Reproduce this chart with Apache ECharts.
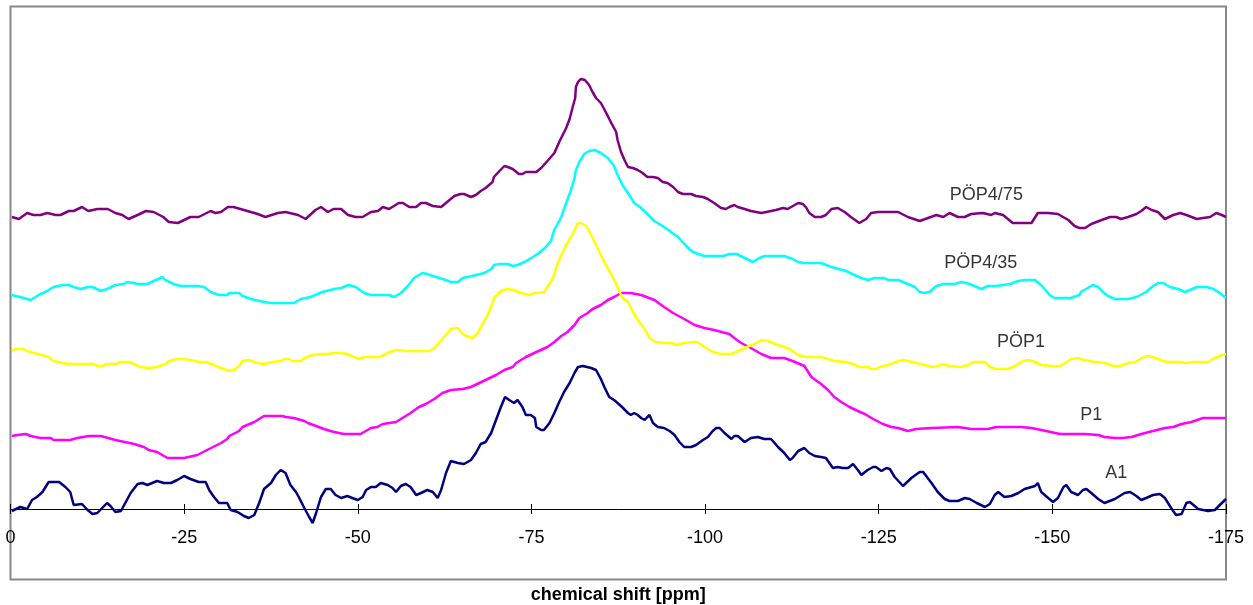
<!DOCTYPE html>
<html>
<head>
<meta charset="utf-8">
<title>chemical shift</title>
<script src="https://cdn.jsdelivr.net/npm/echarts@6/dist/echarts.min.js"></script>
<style>
  html, body { margin: 0; padding: 0; background: #fff; }
  #chart { width: 1253px; height: 605px; }
</style>
</head>
<body>
<div id="chart"></div>
<script>
// spectra: [chemical shift (ppm), intensity (offset per trace)]
const pop475 = [[-0.2,292],[-1.2,290],[-2.4,296],[-3.3,294],[-4.3,294],[-5.3,296],[-6.5,294],[-7.2,294],[-8.4,298],[-9.1,298],[-10.3,302],[-11.2,298],[-12.5,300],[-14.0,300],[-15.1,296],[-16.1,294],[-17.0,290],[-18.3,294],[-19.5,298],[-20.6,297],[-22.0,292],[-22.8,287],[-24.1,286],[-25.9,292],[-27.1,292],[-28.8,298],[-29.5,296],[-30.3,297],[-31.3,302],[-32.1,302],[-33.1,300],[-35.6,295],[-36.7,292],[-38.5,296],[-39.6,297],[-41.4,294],[-42.5,290],[-43.9,299],[-44.7,302],[-45.7,297],[-46.5,300],[-47.6,300],[-48.6,294],[-49.7,292],[-50.7,292],[-51.9,297],[-52.9,298],[-53.6,302],[-54.5,300],[-55.9,306],[-56.5,306],[-57.4,302],[-58.4,302],[-59.1,306],[-59.8,306],[-60.8,303],[-62.0,302],[-63.9,313],[-64.8,315],[-65.3,315],[-66.3,312],[-67.0,314],[-67.7,318],[-68.4,321],[-69.4,327],[-69.6,332],[-70.4,338],[-71.1,343],[-71.6,342],[-72.3,340],[-73.2,335],[-73.7,335],[-74.2,337],[-75.7,337],[-76.4,341],[-77.3,348],[-78.3,356],[-79.0,367],[-80.0,381],[-80.5,390],[-80.9,401],[-81.3,411],[-81.4,422],[-81.7,427],[-82.1,430],[-82.7,429],[-83.3,424],[-83.8,417],[-84.3,411],[-85.0,406],[-85.7,397],[-86.5,386],[-87.2,377],[-87.4,369],[-87.9,357],[-88.4,349],[-88.9,342],[-89.6,341],[-90.3,339],[-91.0,336],[-91.7,332],[-92.5,332],[-93.2,331],[-93.9,327],[-94.6,326],[-95.4,322],[-96.1,317],[-96.8,315],[-98.0,315],[-98.7,313],[-99.7,312],[-100.4,310],[-101.3,306],[-102.3,301],[-103.0,300],[-103.5,302],[-104.2,304],[-104.7,302],[-105.7,300],[-106.6,298],[-108.1,296],[-109.5,298],[-110.2,299],[-111.2,301],[-111.9,300],[-112.4,302],[-113.4,306],[-114.1,305],[-114.6,301],[-115.0,296],[-115.8,292],[-116.7,292],[-117.4,294],[-118.2,300],[-119.1,301],[-120.1,297],[-121.0,292],[-122.2,286],[-123.2,290],[-123.9,296],[-124.9,297],[-127.8,297],[-129.2,292],[-130.9,288],[-132.1,291],[-133.3,294],[-134.3,292],[-135.2,296],[-136.4,292],[-137.4,292],[-138.3,295],[-140.0,296],[-141.2,294],[-141.7,296],[-142.9,294],[-144.3,286],[-147.0,286],[-147.9,296],[-149.4,296],[-150.8,295],[-152.3,289],[-153.2,283],[-153.9,281],[-154.7,281],[-155.6,285],[-157.1,289],[-158.3,292],[-159.2,292],[-159.9,290],[-160.9,292],[-162.1,295],[-162.8,298],[-163.5,302],[-164.3,299],[-165.2,297],[-166.2,290],[-167.4,294],[-168.4,296],[-169.3,294],[-170.8,290],[-171.7,291],[-172.7,292],[-173.6,296],[-174.4,294],[-175.0,292]]

const pop435 = [[-0.2,214],[-1.4,212],[-2.9,209],[-4.3,215],[-5.0,217],[-6.2,222],[-7.5,224],[-8.4,224],[-9.1,222],[-10.1,220],[-11.1,222],[-11.8,222],[-13.0,218],[-13.9,220],[-15.1,224],[-16.3,225],[-16.8,227],[-17.8,226],[-18.3,225],[-19.7,225],[-20.6,228],[-21.9,232],[-22.3,229],[-23.5,225],[-24.5,223],[-26.9,223],[-27.9,222],[-28.8,217],[-30.0,214],[-31.2,214],[-31.5,216],[-32.9,216],[-33.4,213],[-34.6,210],[-36.5,207],[-37.5,206],[-40.8,206],[-41.8,210],[-43.2,212],[-44.9,217],[-46.6,220],[-47.6,221],[-48.7,224],[-49.7,222],[-50.9,216],[-51.9,214],[-54.5,214],[-55.2,212],[-56.2,216],[-57.2,223],[-58.1,231],[-59.3,236],[-60.0,235],[-60.8,233],[-62.2,230],[-63.4,227],[-64.4,227],[-65.1,231],[-66.5,233],[-68.2,236],[-69.2,240],[-69.6,244],[-70.4,245],[-71.6,245],[-72.3,243],[-73.0,244],[-74.0,247],[-75.2,252],[-76.1,256],[-77.1,262],[-77.8,268],[-78.3,279],[-79.3,292],[-80.0,306],[-80.7,319],[-81.2,331],[-81.4,339],[-81.9,347],[-82.6,355],[-83.3,358],[-84.1,359],[-85.0,356],[-86.0,351],[-86.9,343],[-87.4,334],[-88.1,324],[-88.9,316],[-89.8,306],[-90.8,301],[-91.7,295],[-92.7,288],[-94.1,282],[-95.1,277],[-96.1,272],[-97.0,265],[-98.0,258],[-99.0,255],[-99.9,253],[-102.6,253],[-103.5,255],[-104.5,255],[-105.7,251],[-106.9,247],[-107.8,251],[-108.6,253],[-111.4,253],[-112.6,250],[-113.4,247],[-114.3,246],[-116.7,246],[-118.2,242],[-120.3,238],[-121.5,234],[-122.5,231],[-123.5,229],[-124.4,231],[-125.8,231],[-126.3,229],[-127.8,229],[-129.2,225],[-130.2,222],[-130.9,217],[-131.6,216],[-132.3,217],[-133.3,223],[-134.3,225],[-135.9,225],[-136.9,227],[-138.1,225],[-139.1,222],[-139.8,220],[-140.7,223],[-141.9,223],[-142.9,224],[-143.9,225],[-145.1,228],[-146.0,229],[-147.5,229],[-148.2,225],[-148.9,220],[-149.6,214],[-150.3,211],[-152.7,211],[-153.9,214],[-154.1,217],[-155.1,221],[-155.8,224],[-156.6,222],[-157.3,217],[-158.0,213],[-159.0,210],[-160.9,210],[-162.1,212],[-163.5,217],[-164.5,223],[-165.2,226],[-166.0,226],[-166.9,222],[-168.1,220],[-169.1,217],[-169.8,219],[-170.8,222],[-172.2,222],[-173.2,220],[-174.1,216],[-175.0,211]]

const pop1 = [[-0.2,158],[-0.7,160],[-1.9,160],[-2.4,158],[-3.4,156],[-4.6,154],[-5.5,152],[-6.2,148],[-7.5,146],[-8.4,145],[-12.0,145],[-12.5,143],[-13.2,143],[-13.9,145],[-15.1,145],[-15.9,147],[-17.0,147],[-17.8,145],[-18.7,142],[-19.9,141],[-21.1,142],[-22.3,145],[-22.8,148],[-24.0,150],[-25.0,150],[-25.9,149],[-27.1,147],[-28.1,147],[-29.3,144],[-30.3,141],[-31.5,138],[-32.4,140],[-32.9,143],[-33.4,148],[-34.3,149],[-35.6,146],[-36.5,145],[-37.7,147],[-38.9,148],[-39.4,150],[-40.1,150],[-40.6,148],[-41.8,148],[-42.3,151],[-43.5,154],[-44.7,155],[-45.9,155],[-46.4,156],[-47.6,156],[-48.5,155],[-49.5,152],[-50.2,150],[-50.9,152],[-51.4,152],[-53.1,152],[-53.8,154],[-54.5,157],[-55.7,159],[-56.9,158],[-60.3,158],[-61.2,162],[-62.4,172],[-63.4,180],[-64.4,181],[-65.3,174],[-66.5,171],[-67.3,176],[-67.7,182],[-68.7,194],[-69.4,206],[-69.6,211],[-70.6,218],[-71.6,220],[-72.5,219],[-73.5,216],[-74.7,214],[-75.4,216],[-76.8,217],[-77.3,222],[-78.1,231],[-78.8,246],[-80.0,264],[-80.7,272],[-81.7,286],[-82.1,286],[-82.9,283],[-83.6,274],[-84.8,257],[-85.7,244],[-86.7,232],[-87.4,222],[-88.1,211],[-88.9,207],[-89.6,197],[-90.5,187],[-91.3,180],[-92.0,171],[-92.9,167],[-94.1,166],[-95.1,166],[-95.8,164],[-97.0,166],[-98.2,167],[-98.9,167],[-99.9,162],[-101.1,157],[-102.3,155],[-103.8,155],[-104.5,157],[-105.7,161],[-107.1,165],[-108.1,169],[-109.0,168],[-110.5,164],[-111.4,162],[-112.4,159],[-113.4,154],[-114.6,152],[-116.7,152],[-118.6,148],[-120.3,147],[-121.3,145],[-122.2,142],[-123.5,142],[-123.9,140],[-124.6,140],[-125.1,142],[-126.3,144],[-127.5,147],[-128.5,149],[-129.2,148],[-130.4,146],[-131.6,144],[-132.8,142],[-133.5,143],[-134.3,145],[-135.2,143],[-136.7,142],[-137.9,144],[-138.6,147],[-140.3,147],[-141.0,142],[-141.9,140],[-143.6,140],[-144.6,143],[-145.8,148],[-146.7,149],[-147.5,147],[-148.4,144],[-149.9,143],[-151.1,143],[-151.8,146],[-152.7,150],[-153.7,151],[-154.6,149],[-156.1,147],[-157.5,146],[-158.8,143],[-159.7,143],[-160.9,146],[-161.9,147],[-163.1,152],[-163.8,153],[-164.8,151],[-166.0,148],[-166.7,147],[-168.4,147],[-169.3,146],[-170.3,147],[-172.4,147],[-173.1,150],[-174.4,154],[-175.0,155]]

const p1 = [[-0.2,73],[-1.0,74],[-2.2,75],[-2.9,73],[-4.3,71],[-5.8,71],[-6.2,69],[-8.6,69],[-9.6,71],[-11.3,73],[-13.0,73],[-15.1,69],[-17.8,65],[-19.2,62],[-19.9,59],[-21.1,57],[-22.6,51],[-25.0,51],[-26.9,54],[-28.3,59],[-30.3,66],[-31.2,70],[-31.5,73],[-32.9,78],[-33.4,82],[-35.1,87],[-36.5,93],[-39.2,93],[-39.6,92],[-40.8,91],[-42.3,88],[-42.8,86],[-44.0,83],[-45.1,80],[-46.6,77],[-48.0,75],[-50.4,75],[-50.9,77],[-51.9,81],[-52.8,82],[-53.6,85],[-55.5,87],[-56.2,90],[-57.6,96],[-58.8,102],[-59.8,105],[-61.0,110],[-62.2,116],[-63.4,119],[-65.1,120],[-66.3,122],[-67.5,126],[-68.7,130],[-69.9,134],[-71.1,139],[-72.3,142],[-72.8,146],[-74.2,152],[-75.7,157],[-77.3,162],[-78.3,167],[-79.3,173],[-80.2,177],[-81.2,184],[-81.9,191],[-83.1,196],[-83.8,200],[-85.0,204],[-86.0,209],[-86.9,212],[-87.9,216],[-89.3,216],[-90.8,214],[-92.7,209],[-94.1,202],[-95.4,196],[-97.0,190],[-98.5,184],[-99.9,181],[-101.3,179],[-103.5,175],[-104.2,171],[-105.2,166],[-106.6,161],[-108.1,155],[-109.5,151],[-111.4,151],[-112.6,148],[-114.3,143],[-115.3,132],[-116.7,125],[-117.7,119],[-118.6,112],[-119.6,107],[-120.8,102],[-122.0,98],[-123.0,95],[-124.2,90],[-125.6,85],[-126.8,82],[-127.8,81],[-129.2,78],[-130.4,80],[-132.6,81],[-136.4,82],[-138.3,80],[-140.7,80],[-141.9,82],[-145.5,82],[-147.0,81],[-148.4,79],[-151.1,75],[-154.7,75],[-156.6,74],[-157.5,72],[-159.0,71],[-160.0,71],[-161.4,72],[-162.8,75],[-164.5,78],[-166.2,81],[-167.4,82],[-168.6,85],[-170.0,87],[-171.7,91],[-173.4,91],[-175.0,91]]

const a1 = [[-0.2,-2],[-1.4,2],[-2.4,0],[-3.1,9],[-3.8,12],[-4.6,17],[-5.5,27],[-7.0,27],[-7.9,22],[-8.6,17],[-9.1,4],[-10.3,5],[-11.1,-1],[-11.8,-5],[-12.5,-4],[-13.2,1],[-13.9,6],[-14.4,3],[-15.1,-3],[-15.9,-2],[-16.6,7],[-17.3,16],[-18.3,25],[-19.0,26],[-19.7,24],[-21.1,28],[-22.1,26],[-23.1,26],[-24.0,29],[-25.0,33],[-25.9,30],[-27.1,27],[-28.1,27],[-28.6,19],[-29.3,12],[-30.0,6],[-31.2,6],[-31.7,-1],[-32.7,-3],[-33.6,-7],[-34.3,-9],[-35.1,-6],[-35.8,6],[-36.5,20],[-37.5,26],[-38.2,34],[-38.9,39],[-39.6,36],[-40.3,24],[-41.1,17],[-41.5,12],[-42.3,1],[-43.0,-8],[-43.5,-14],[-44.0,-4],[-44.7,12],[-45.4,20],[-46.1,20],[-46.8,14],[-47.6,11],[-48.5,13],[-49.2,11],[-50.0,9],[-50.7,12],[-51.2,19],[-51.9,22],[-52.6,22],[-53.3,26],[-54.3,24],[-55.0,21],[-55.5,17],[-56.2,23],[-56.9,25],[-57.6,22],[-58.4,14],[-59.1,16],[-60.0,19],[-60.8,17],[-61.5,11],[-62.0,19],[-62.7,36],[-63.4,48],[-64.4,46],[-65.3,45],[-66.3,49],[-67.0,56],[-67.7,65],[-68.4,67],[-69.2,76],[-69.9,89],[-70.6,102],[-71.2,112],[-71.8,109],[-72.5,106],[-73.0,109],[-73.7,102],[-74.2,94],[-74.9,94],[-75.5,91],[-75.7,82],[-76.4,79],[-76.8,79],[-77.6,86],[-78.3,96],[-79.0,107],[-79.7,117],[-80.5,126],[-81.2,136],[-81.7,142],[-82.4,143],[-83.6,141],[-84.3,139],[-85.0,130],[-85.5,122],[-86.2,112],[-86.9,109],[-87.9,103],[-88.9,96],[-89.3,94],[-89.8,96],[-90.3,94],[-90.8,91],[-91.3,89],[-91.7,92],[-92.0,94],[-92.5,86],[-93.2,82],[-94.1,81],[-94.9,78],[-95.6,74],[-96.3,67],[-97.0,62],[-98.0,62],[-98.7,64],[-99.7,69],[-100.4,72],[-101.1,78],[-101.6,81],[-102.1,81],[-102.8,76],[-103.8,70],[-104.2,73],[-104.7,73],[-105.7,67],[-106.6,71],[-107.6,72],[-108.5,70],[-109.5,70],[-110.5,62],[-111.4,56],[-112.2,49],[-112.6,51],[-113.4,58],[-114.3,61],[-115.0,56],[-115.8,53],[-116.7,52],[-117.4,51],[-117.9,46],[-118.4,41],[-119.1,42],[-119.8,41],[-120.6,41],[-121.3,45],[-122.0,39],[-122.5,34],[-123.4,39],[-124.2,42],[-124.6,42],[-125.4,38],[-126.1,41],[-126.6,40],[-127.3,32],[-128.5,23],[-129.7,31],[-130.9,37],[-131.4,37],[-132.6,26],[-133.5,17],[-134.5,10],[-135.2,8],[-136.4,8],[-137.4,11],[-138.1,10],[-139.1,6],[-140.3,2],[-141.0,5],[-141.7,14],[-142.2,17],[-143.1,12],[-144.1,13],[-145.1,16],[-146.0,20],[-147.5,23],[-147.9,26],[-148.4,17],[-149.4,11],[-150.1,7],[-150.8,11],[-151.6,22],[-152.0,24],[-152.7,17],[-153.7,14],[-154.4,19],[-154.9,20],[-155.6,16],[-156.6,10],[-157.5,6],[-159.0,10],[-160.4,16],[-161.2,17],[-162.1,13],[-162.8,9],[-163.5,11],[-164.5,14],[-165.5,15],[-166.2,11],[-167.1,1],[-167.8,-6],[-168.6,-5],[-169.3,6],[-169.8,7],[-171.0,0],[-172.4,-2],[-173.4,-1],[-174.4,6],[-175.0,10]]

const seriesNames = ['A1', 'P1', 'PÖP1', 'PÖP4/35', 'PÖP4/75']
const seriesData = [a1, p1, pop1, pop435, pop475]
const seriesColors = ['#000080', '#ff00ff', '#ffff00', '#00ffff', '#800080']
// label anchor of each trace name [ppm, intensity]
const labelPos = [[-159.2, 36], [-155.6, 94], [-145.5, 167], [-139.7, 246], [-140.5, 314]]

const shiftMin = -175
const shiftMax = 0
const shiftStep = 25

const font = 'Liberation Sans, Arial, sans-serif'
const chart = echarts.init(document.getElementById('chart'))

const lineSeries = seriesData.map((data, i) => ({
  name: seriesNames[i],
  type: 'line',
  data: data,
  showSymbol: false,
  symbol: 'none',
  clip: false,
  lineStyle: { color: seriesColors[i], width: 2.5 },
  itemStyle: { color: seriesColors[i] },
  silent: true
}))

const option = {
  animation: false,
  backgroundColor: '#ffffff',
  // outer frame (plot area border)
  graphic: [{
    type: 'rect',
    shape: { x: 10.5, y: 6.5, width: 1215.5, height: 573 },
    style: { fill: 'none', stroke: '#888888', lineWidth: 2 },
    z: -1,
    silent: true
  }],
  grid: {
    left: 10.5, right: 27, top: 6.5, bottom: 96,
    outerBoundsMode: 'none',
    containLabel: false,
    show: false
  },
  xAxis: [{
    type: 'value',
    min: shiftMin, max: shiftMax, interval: shiftStep,
    inverse: true,
    position: 'bottom',
    name: 'chemical shift [ppm]',
    nameLocation: 'middle',
    nameGap: 77,
    nameTextStyle: { fontFamily: font, fontSize: 18, fontWeight: 'bold', color: '#000' },
    axisLine: { onZero: false, lineStyle: { color: '#000', width: 1 } },
    axisTick: { show: true, length: 5, lineStyle: { color: '#000' } },
    axisLabel: { fontFamily: font, fontSize: 18, color: '#000', margin: 20 },
    splitLine: { show: false }
  }, {
    type: 'value',
    min: shiftMin, max: shiftMax, interval: shiftStep,
    inverse: true,
    position: 'bottom',
    axisLine: { show: false, onZero: false },
    axisTick: { show: true, inside: true, length: 5, lineStyle: { color: '#000' } },
    axisLabel: { show: false },
    splitLine: { show: false }
  }],
  yAxis: [{
    type: 'value', min: 0, max: 502.5, show: false
  }],
  series: [
    ...lineSeries,
    {
      type: 'scatter',
      symbolSize: 0,
      silent: true,
      data: labelPos.map((p, i) => [p[0], p[1], seriesNames[i]]),
      label: {
        show: true,
        position: 'inside',
        formatter: p => p.data[2],
        fontFamily: font,
        fontSize: 18,
        color: '#000'
      }
    }
  ]
}

chart.setOption(option)
</script>
</body>
</html>
